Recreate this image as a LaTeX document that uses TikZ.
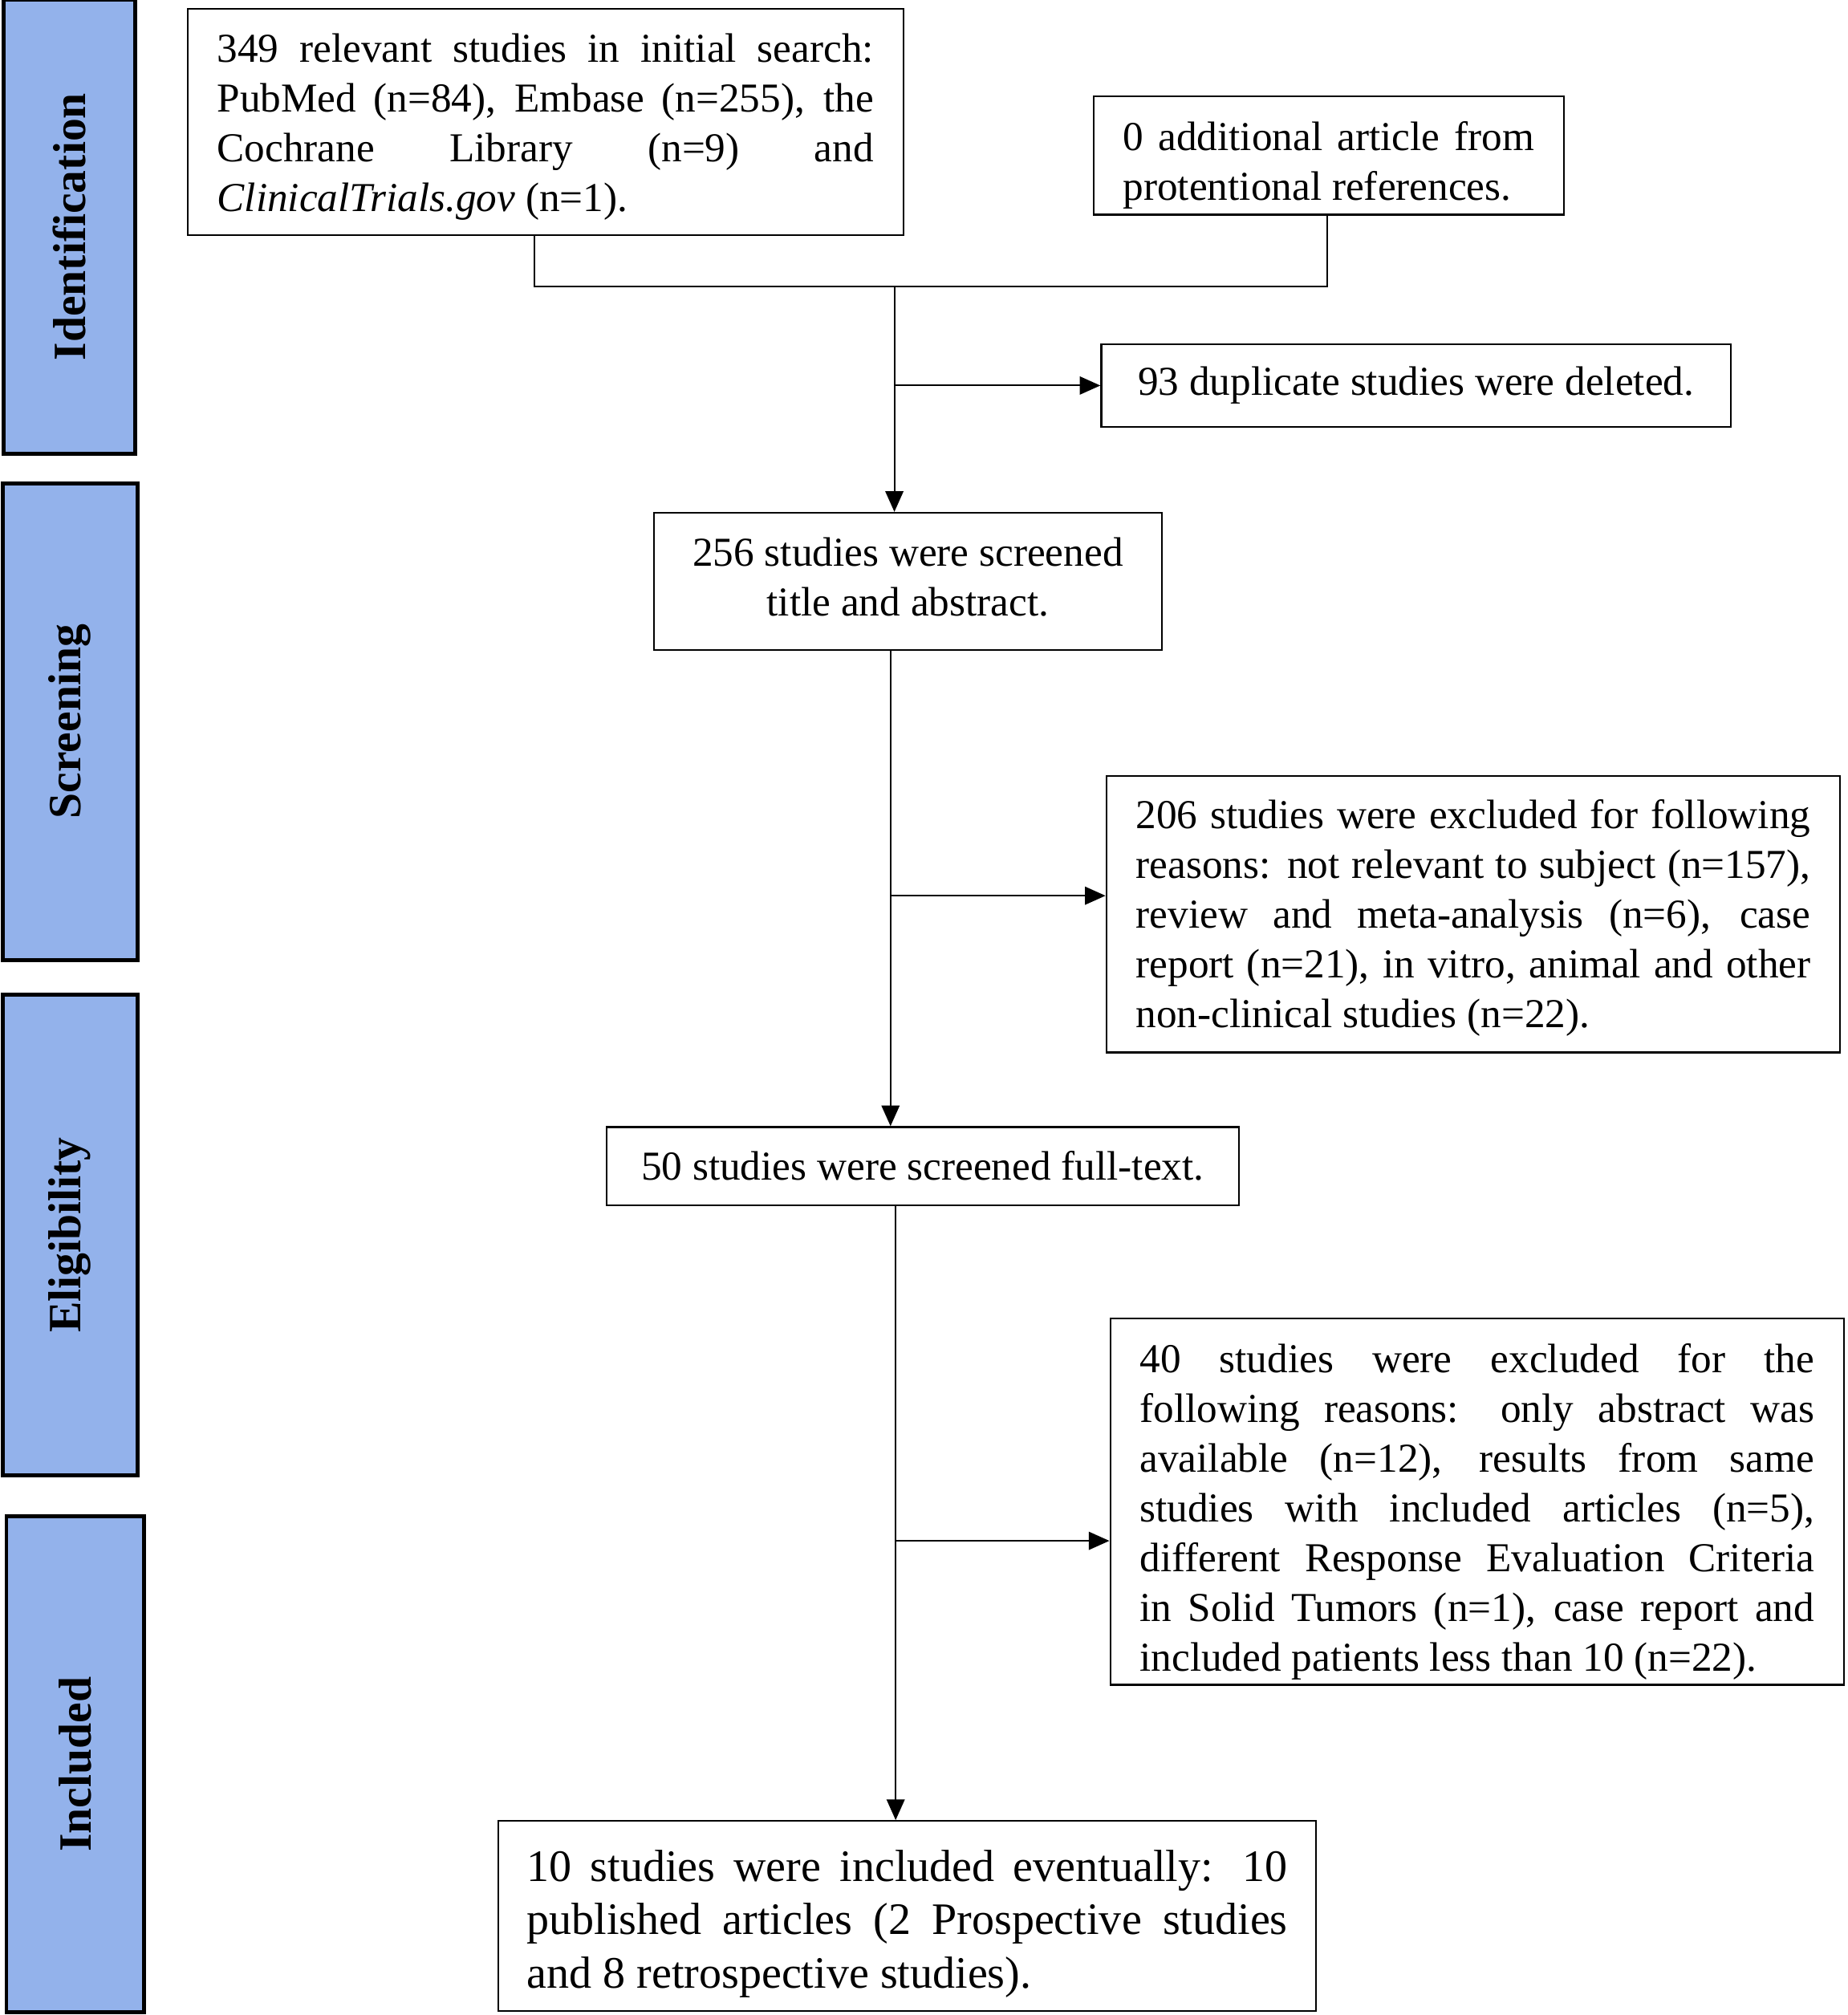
\documentclass[tikz,border=0pt]{standalone}
\usepackage{fontspec}
\setmainfont{Liberation Serif}
\usetikzlibrary{arrows.meta,calc}
\definecolor{stageblue}{RGB}{147,178,235}

\tikzset{
  stage/.style={draw=black, line width=1.5pt, fill=stageblue, rotate=90, inner sep=0pt, font=\fontsize{18}{21}\selectfont\bfseries},
  box/.style={draw=black, line width=0.7pt, inner xsep=11.5pt, inner ysep=0pt, font=\fontsize{16}{19.35}\selectfont},
  arr/.style={-{Triangle[length=8pt,width=7pt]}, line width=0.6pt},
  toppad/.style={execute at begin node={\rule{0pt}{#1}}},
  botpad/.style={execute at end node={\rule[-#1]{0pt}{0pt}}},
}

\begin{document}
\begin{tikzpicture}[x=0.5pt, y=-0.5pt]
  \useasboundingbox (0,0) rectangle (1438,1568);

  \node[stage, minimum width=176.5pt, minimum height=51pt] (ident) at (54,176.5) {Identification};
  \node[stage, minimum width=185.5pt, minimum height=52.5pt] (screening) at (54.5,561.5) {Screening};
  \node[stage, minimum width=187pt, minimum height=52.5pt] (eligible) at (54.5,961) {Eligibility};
  \node[stage, minimum width=193pt, minimum height=53.5pt] (included) at (58.5,1373) {Included};

  \node[box, text width=255.5pt, align=justify, minimum height=88pt, toppad=15pt] (search) at (424.5,95)
    {349 relevant studies in initial search:\linebreak PubMed (n=84), Embase (n=255), the\linebreak Cochrane Library (n=9) and\linebreak \textit{ClinicalTrials.gov} (n=1).};
  \node[box, text width=160pt, align=justify, minimum height=46pt, toppad=19pt] (extra) at (1034,121)
    {0 additional article from\linebreak protentional references.};
  \node[box, minimum width=245pt, minimum height=32pt] (dup) at (1102,300)
    {93 duplicate studies were deleted.};
  \node[box, align=center, minimum width=197.5pt, minimum height=53.5pt, botpad=4pt] (screen) at (706.5,452.5)
    {256 studies were screened\\ title and abstract.};
  \node[box, text width=262.5pt, align=justify, minimum height=107.5pt, toppad=14pt] (excl1) at (1146.5,711.5)
    {206 studies were excluded for following\linebreak reasons: not relevant to subject (n=157),\linebreak review and meta-analysis (n=6), case\linebreak report (n=21), in vitro, animal and other\linebreak non-clinical studies (n=22).};
  \node[box, minimum width=246pt, minimum height=30.5pt] (full) at (718,907.5)
    {50 studies were screened full-text.};
  \node[box, text width=262.5pt, align=justify, minimum height=142.5pt, toppad=19pt] (excl2) at (1149.5,1168.5)
    {40 studies were excluded for the\linebreak following reasons: only abstract was\linebreak available (n=12), results from same\linebreak studies with included articles (n=5),\linebreak different Response Evaluation Criteria\linebreak in Solid Tumors (n=1), case report and\linebreak included patients less than 10 (n=22).};
  \node[box, text width=296pt, align=justify, inner xsep=11pt, minimum height=74pt, toppad=18pt, font=\fontsize{17.5}{20.75}\selectfont] (incl) at (706,1491)
    {10 studies were included eventually: 10\linebreak published articles (2 Prospective studies\linebreak and 8 retrospective studies).};

  \coordinate (bendL) at (416,223);
  \coordinate (bendR) at (1033,223);
  \coordinate (j1) at (696,223);
  \coordinate (j2) at (693,697);
  \coordinate (j3) at (697,1199);

  \draw[line width=0.6pt] (search.south -| bendL) -- (bendL) -- (bendR) -- (extra.south -| bendR);
  \draw[arr] (j1) -- (j1 |- screen.north);
  \draw[arr] (j1 |- dup.west) -- (dup.west);
  \draw[arr] (screen.south -| j2) -- (full.north -| j2);
  \draw[arr] (j2) -- (j2 -| excl1.west);
  \draw[arr] (full.south -| j3) -- (incl.north -| j3);
  \draw[arr] (j3) -- (j3 -| excl2.west);
\end{tikzpicture}
\end{document}
